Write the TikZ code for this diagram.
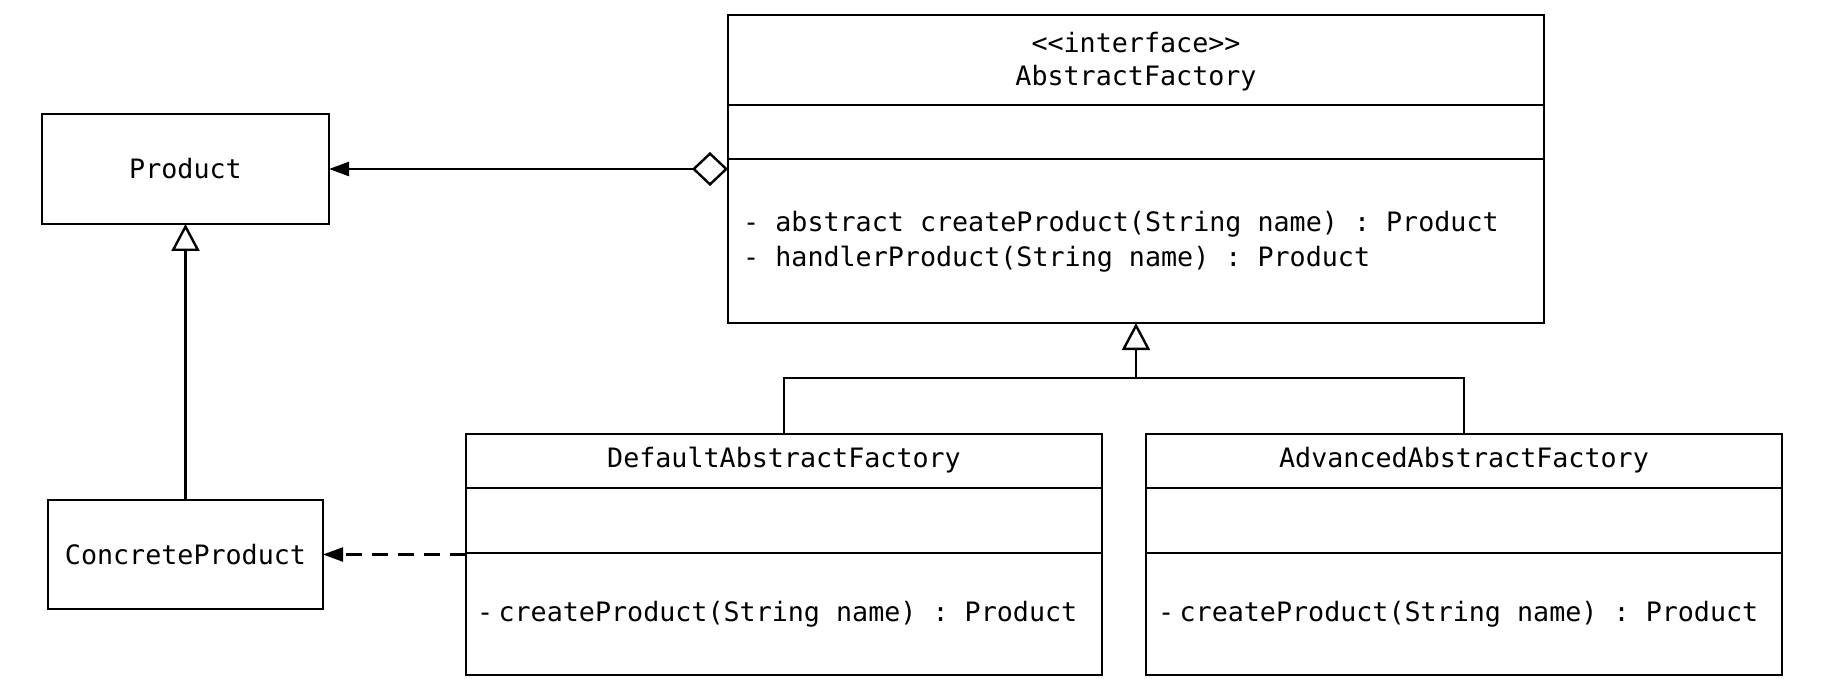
\documentclass[tikz,border=0pt]{standalone}
\usepackage{fontspec}
\setmonofont{DejaVu Sans Mono}
\usetikzlibrary{arrows.meta}
\begin{document}
\begin{tikzpicture}[x=1pt,y=-1pt,
  every node/.style={font=\ttfamily\fontsize{26.7}{32}\selectfont},
  box/.style={draw, line width=2.4pt, inner sep=0pt, outer sep=0pt, anchor=north west},
  lbl/.style={inner sep=0pt},
  conn/.style={line width=2.4pt},
  gen/.style={conn, -{Triangle[open, length=27pt, width=28pt, fill=white]}},
  agg/.style={conn, {Diamond[open, length=36pt, width=34pt, fill=white]}-{Triangle[length=20pt, width=14pt]}},
  dep/.style={conn, dash pattern=on 16pt off 10pt, -{Triangle[length=20pt, width=14pt]}}
]
\useasboundingbox (0,0) rectangle (1830,692);

% Product
\node[box, minimum width=287pt, minimum height=110pt] (product) at (42,114) {Product};
% ConcreteProduct
\node[box, minimum width=275pt, minimum height=109pt] (cp) at (48,500) {ConcreteProduct};

% AbstractFactory
\node[box, minimum width=816pt, minimum height=308pt] (af) at (728,15) {};
\draw[conn] (728,105) -- (1544,105);
\draw[conn] (728,159) -- (1544,159);
\node[lbl] (afs) at (1136,43) {<{}<interface>{}>};
\node[lbl] (afn) at (1136,78) {AbstractFactory};
\node[lbl, anchor=west] (afm1) at (743,224) {- abstract createProduct(String name) : Product};
\node[lbl, anchor=west] (afm2) at (743,259) {- handlerProduct(String name) : Product};

% DefaultAbstractFactory
\node[box, minimum width=636pt, minimum height=241pt] (daf) at (466,434) {};
\draw[conn] (466,488) -- (1102,488);
\draw[conn] (466,553) -- (1102,553);
\node[lbl] (dafn) at (784,460) {DefaultAbstractFactory};
\node[lbl, anchor=west] (dafm) at (477,614) {-\hspace{0.2em}createProduct(String name) : Product};

% AdvancedAbstractFactory
\node[box, minimum width=636pt, minimum height=241pt] (aaf) at (1146,434) {};
\draw[conn] (1146,488) -- (1782,488);
\draw[conn] (1146,553) -- (1782,553);
\node[lbl] (aafn) at (1464,460) {AdvancedAbstractFactory};
\node[lbl, anchor=west] (aafm) at (1158,614) {-\hspace{0.2em}createProduct(String name) : Product};

% connectors
\draw[agg] (af.west) -- (product.east);
\draw[gen] (cp.north) -- (product.south);
\coordinate (j) at (af.south |- 0,378);
\draw[conn] (daf.north) |- (j) -| (aaf.north);
\draw[gen] (j) -- (af.south);
\draw[dep] (daf.west) -- (cp.east);
\end{tikzpicture}
\end{document}
